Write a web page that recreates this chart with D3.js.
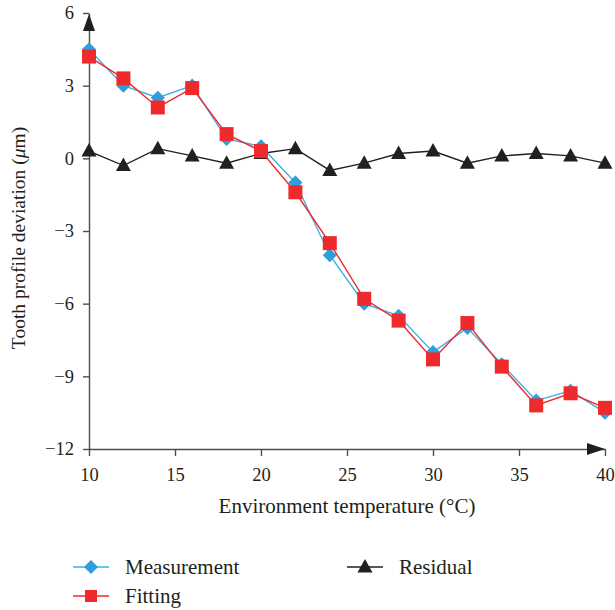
<!DOCTYPE html>
<html>
<head>
<meta charset="utf-8">
<script src="https://cdn.jsdelivr.net/npm/d3@7"></script>
<style>
  body { margin: 0; background: #fff; }
  text { font-family: "Liberation Serif", "Times New Roman", serif; fill: #231f20; }
  .axis text { font-size: 18.5px; }
  .axis path, .axis line { stroke: #4d4d4d; stroke-width: 1.4px; }
</style>
</head>
<body>
<svg id="chart" width="615" height="610"></svg>
<script>
const temperatures = [10, 12, 14, 16, 18, 20, 22, 24, 26, 28, 30, 32, 34, 36, 38, 40];
const measurement = [4.5, 3.0, 2.5, 3.0, 0.8, 0.5, -1.0, -4.0, -6.0, -6.5, -8.0, -7.0, -8.5, -10.0, -9.6, -10.5];
const fitting = [4.2, 3.3, 2.1, 2.9, 1.0, 0.3, -1.4, -3.5, -5.8, -6.7, -8.3, -6.8, -8.6, -10.2, -9.7, -10.3];
const residual = [0.3, -0.3, 0.4, 0.1, -0.2, 0.2, 0.4, -0.5, -0.2, 0.2, 0.3, -0.2, 0.1, 0.2, 0.1, -0.2];
const xTicks = [10, 15, 20, 25, 30, 35, 40];
const yTicks = [-12, -9, -6, -3, 0, 3, 6];

const svg = d3.select("#chart");
const plotLeft = 89, plotRight = 605, plotTop = 13, plotBottom = 449;

const x = d3.scaleLinear().domain([10, 40]).range([plotLeft, plotRight]);
const y = d3.scaleLinear().domain([-12, 6]).range([plotBottom, plotTop]);

const blue = "#2f9fdc", blueLine = "#3bb0e6", red = "#ee2a2d", black = "#231f20";

// axes
svg.append("g")
	.attr("class", "axis")
	.attr("transform", "translate(0," + plotBottom + ")")
	.call(d3.axisBottom(x).tickValues(xTicks).tickSize(7).tickSizeOuter(0).tickPadding(12));

svg.append("g")
	.attr("class", "axis")
	.attr("transform", "translate(" + plotLeft + ",0)")
	.call(d3.axisLeft(y).tickValues(yTicks).tickSize(6).tickSizeOuter(0).tickPadding(9));

// arrow heads
svg.append("path")
	.attr("d", "M" + plotLeft + "," + (plotTop + 1) + " l-6,17 l12,0 z")
	.attr("fill", black);
svg.append("path")
	.attr("d", "M" + plotRight + "," + plotBottom + " l-18,-6 l0,12 z")
	.attr("fill", black);

// series
const line = vals => d3.line()
	.x((d, i) => x(temperatures[i]))
	.y(d => y(d))(vals);

const diamond = d3.symbol().type(d3.symbolSquare).size(100)();
const square = d3.symbol().type(d3.symbolSquare).size(196)();
const triangle = "M0,-8 L7.5,5.5 L-7.5,5.5 Z";

function drawSeries(vals, lineColor, markFill, markPath, rotate) {
	svg.append("path")
		.attr("d", line(vals))
		.attr("fill", "none")
		.attr("stroke", lineColor)
		.attr("stroke-width", 1.4);
	svg.append("g").selectAll("path")
		.data(vals)
		.enter()
		.append("path")
		.attr("d", markPath)
		.attr("fill", markFill)
		.attr("transform", (d, i) => "translate(" + x(temperatures[i]) + "," + y(d) + ")" + (rotate ? " rotate(45)" : ""));
}

drawSeries(residual, black, black, triangle, false);
drawSeries(measurement, blueLine, blue, diamond, true);
drawSeries(fitting, red, red, square, false);

// axis titles
svg.append("text")
	.attr("x", 347)
	.attr("y", 513)
	.attr("text-anchor", "middle")
	.style("font-size", "21px")
	.text("Environment temperature (°C)");

svg.append("text")
	.attr("transform", "translate(25,238) rotate(-90)")
	.attr("text-anchor", "middle")
	.style("font-size", "19.5px")
	.html('Tooth profile deviation (<tspan font-style="italic">μ</tspan>m)');

// legend
const legend = [
	{ name: "Measurement", color: blueLine, fill: blue, mark: diamond, rot: true, lx: 73, ly: 567 },
	{ name: "Fitting", color: red, fill: red, mark: d3.symbol().type(d3.symbolSquare).size(144)(), rot: false, lx: 73, ly: 596 },
	{ name: "Residual", color: black, fill: black, mark: triangle, rot: false, lx: 347, ly: 567 }
];
const lg = svg.append("g").selectAll("g")
	.data(legend)
	.enter()
	.append("g")
	.attr("transform", d => "translate(" + d.lx + "," + d.ly + ")");
lg.append("line")
	.attr("x1", 0).attr("x2", 36)
	.attr("stroke", d => d.color)
	.attr("stroke-width", 1.4);
lg.append("path")
	.attr("d", d => d.mark)
	.attr("fill", d => d.fill)
	.attr("transform", d => "translate(18,0)" + (d.rot ? " rotate(45)" : ""));
lg.append("text")
	.attr("x", 52)
	.attr("y", 7)
	.style("font-size", "21px")
	.text(d => d.name);
</script>
</body>
</html>
